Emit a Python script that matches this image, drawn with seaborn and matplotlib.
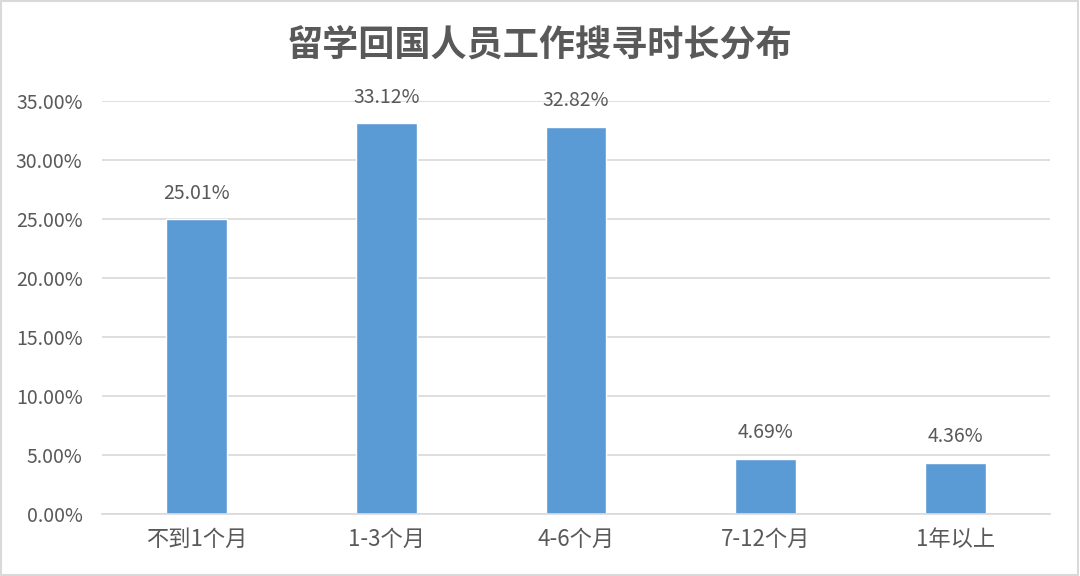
import pandas as pd
import seaborn as sns
import matplotlib.pyplot as plt
import matplotlib.ticker as mtick
from matplotlib.patches import Rectangle

categories = ['不到1个月', '1-3个月', '4-6个月', '7-12个月', '1年以上']
shares = [25.01, 33.12, 32.82, 4.69, 4.36]
title = '留学回国人员工作搜寻时长分布'

sns.set_style('white')
plt.rcParams['font.family'] = ['Noto Sans CJK SC', 'DejaVu Sans']

df = pd.DataFrame({'cat': categories, 'share': shares})

fig = plt.figure(figsize=(10.8, 5.76), dpi=100)
ax = fig.add_axes([0.0944, 0.1076, 0.8778, 0.7171])

sns.barplot(df, x='cat', y='share', color='#5B9BD5', width=0.32, saturation=1, ax=ax)

ax.set_ylim(0, 35)
ax.set_yticks(range(0, 36, 5))
ax.yaxis.set_major_formatter(mtick.FuncFormatter(lambda v, p: f'{v:.2f}%'))
ax.yaxis.grid(True, color='#D9D9D9', linewidth=1.2)
ax.set_axisbelow(True)
for s in ['top', 'right', 'left']:
    ax.spines[s].set_visible(False)
ax.spines['bottom'].set_color('#D9D9D9')
ax.spines['bottom'].set_linewidth(1.2)
ax.tick_params(axis='y', length=0, labelsize=14, colors='#595959', pad=14)
ax.tick_params(axis='x', length=0, labelsize=16, colors='#595959', pad=10)
ax.set_xlabel('')
ax.set_ylabel('')

for i, v in enumerate(shares):
    ax.text(i, v + 1.3, f'{v:.2f}%', ha='center', va='bottom', fontsize=14, color='#595959')

fig.text(0.5, 0.921, title, ha='center', va='center', fontsize=26, fontweight='bold', color='#595959')

# light frame around the whole picture
fig.patches.append(Rectangle((0.001, 0.002), 0.997, 0.996, transform=fig.transFigure,
                             fill=False, edgecolor='#D9D9D9', linewidth=1.5))

fig.savefig('out.png', dpi=100)
